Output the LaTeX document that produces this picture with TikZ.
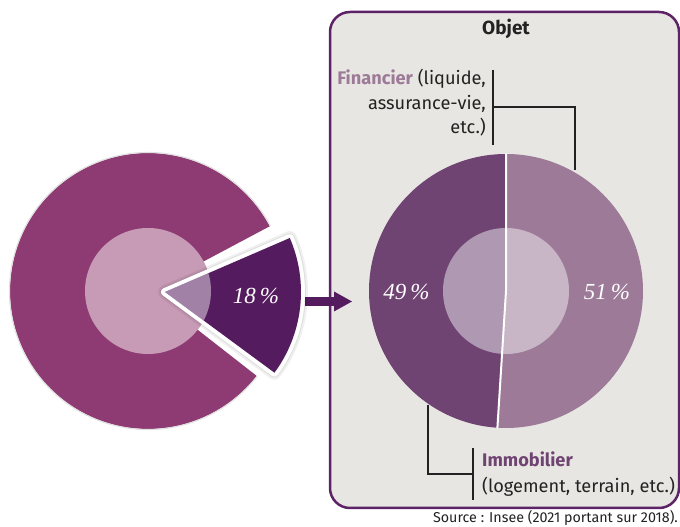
\documentclass[tikz,border=0pt]{standalone}
\usepackage{fontspec}
\setmainfont{Fira Sans}
\newfontfamily\numfont{Liberation Serif}
\definecolor{ringc}{HTML}{8F3B73}
\definecolor{innerc}{HTML}{C79BB5}
\definecolor{slicec}{HTML}{541C5E}
\definecolor{darkp}{HTML}{6F4472}
\definecolor{lightp}{HTML}{9C7A98}
\definecolor{boxfill}{HTML}{E8E6E2}
\definecolor{boxline}{HTML}{5E2366}
\definecolor{txt}{HTML}{222222}
\tikzset{
  pct/.style={font=\numfont\itshape\fontsize{23}{23}\selectfont, text=white, inner sep=0pt},
  lbl/.style={font=\fontsize{18.2}{18.2}\selectfont, text=txt, inner sep=0pt},
  bracket/.style={draw=txt, line width=1.8pt},
}
\begin{document}
\begin{tikzpicture}[x=1pt,y=1pt]
\useasboundingbox (0,0) rectangle (680,527);
% box
\draw[boxline, fill=boxfill, line width=2.5pt, rounded corners=20pt] (330,19) rectangle (679,515);
% arrow
\fill[slicec] (305,221) rectangle (336,230);
\fill[slicec] (334,235.5) -- (352,225.5) -- (334,215.5) -- cycle;
% left pie
\coordinate (lc) at (148,236);
\fill[ringc] (lc) -- ++(28:138) arc[start angle=28, end angle=322, radius=138] -- cycle;
\draw[black!12, line width=1.2pt] (lc) ++(28:138.5) arc[start angle=28, end angle=322, radius=138.5];
\fill[innerc] (lc) circle[radius=63];
% slice
\coordinate (sc) at (165,235);
\draw[black, opacity=0.06, line width=14pt, line join=round] (sc) -- ++(-36.4:136) arc[start angle=-36.4, end angle=23.4, radius=136] -- cycle;
\draw[black, opacity=0.08, line width=10pt, line join=round] (sc) -- ++(-36.4:136) arc[start angle=-36.4, end angle=23.4, radius=136] -- cycle;
\draw[white, fill=white, line width=8pt, line join=round] (sc) -- ++(-36.4:136) arc[start angle=-36.4, end angle=23.4, radius=136] -- cycle;
\fill[slicec] (sc) -- ++(-36.4:136) arc[start angle=-36.4, end angle=23.4, radius=136] -- cycle;
\begin{scope}
\clip (sc) -- ++(-36.4:136) arc[start angle=-36.4, end angle=23.4, radius=136] -- cycle;
\fill[white, opacity=0.45] (lc) circle[radius=63];
\end{scope}
\node[pct] (p18) at (256,231) {18\kern4pt\%};
% right pie
\coordinate (rc) at (506,236);
\fill[lightp] (rc) -- ++(90:137) arc[start angle=90, end angle=-93.6, radius=137] -- cycle;
\fill[darkp] (rc) -- ++(90:137) arc[start angle=90, end angle=266.4, radius=137] -- cycle;
\fill[white, opacity=0.45] (rc) circle[radius=63];
\draw[white, line width=2pt] (rc) ++(90:137.5) -- (rc) -- ++(-93.6:137.5);
\node[pct] (p49) at (406.5,235) {49\kern4pt\%};
\node[pct] (p51) at (607,235) {51\kern4pt\%};
% title
\node[lbl, font=\bfseries\fontsize{19}{19}\selectfont, anchor=base] (title) at (506,492) {Objet};
% Financier label
\node[lbl, anchor=base east] (f1) at (486,442) {\textcolor{lightp}{\bfseries Financier} (liquide,};
\node[lbl, anchor=base east] (f2) at (486,417) {assurance-vie,};
\node[lbl, anchor=base east] (f3) at (486,393) {etc.)};
\coordinate (fa) at (493,457);
\coordinate (fb) at (493,382);
\coordinate (fm) at (493,420);
\coordinate (fr) at (575,420);
\coordinate (fe) at (575,357);
\draw[bracket] (fa) -- (fb);
\draw[bracket] (fm) -- (fr) -- (fe);
% Immobilier label
\node[lbl, anchor=base west, font=\bfseries\fontsize{18.2}{18.2}\selectfont, text=darkp] (i1) at (482,60) {Immobilier};
\node[lbl, anchor=base west] (i2) at (482,34) {(logement, terrain, etc.)};
\coordinate (ia) at (473,79);
\coordinate (ib) at (473,27);
\coordinate (im) at (473,53);
\coordinate (il) at (428,53);
\coordinate (ie) at (428,122);
\draw[bracket] (ia) -- (ib);
\draw[bracket] (im) -- (il) -- (ie);
% source
\node[anchor=base east, inner sep=0pt, font=\fontsize{14.3}{14.3}\selectfont, text=txt] (src) at (678,4) {Source : Insee (2021 portant sur 2018).};
\end{tikzpicture}
\end{document}
